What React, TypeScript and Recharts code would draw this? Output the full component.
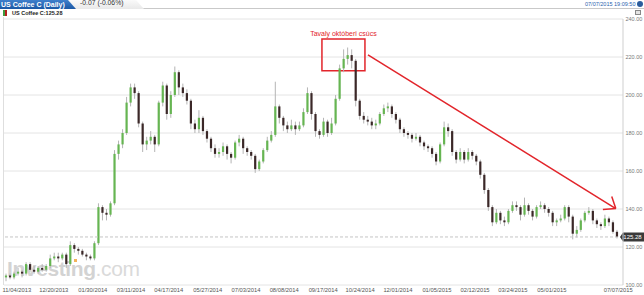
import React from 'react';
import { ComposedChart, Bar, XAxis, YAxis, CartesianGrid, ReferenceLine, ReferenceArea } from 'recharts';

// daily candles squeezed into ~3-day candles
const closes = [
  105, 104, 106, 107, 106, 111, 108, 107, 109, 108, 110, 114, 115, 114, 116, 111, 121, 119, 118, 116,
  115, 114, 122, 141, 138, 137, 143, 169, 174, 180, 196, 204, 201, 185, 174, 176, 178, 174, 196, 205,
  190, 200, 212, 204, 201, 197, 185, 182, 188, 181, 177, 172, 169, 170, 173, 169, 167, 175, 177, 172,
  170, 168, 161, 165, 171, 176, 179, 194, 188, 184, 182, 184, 182, 184, 191, 201, 190, 181, 179, 186,
  180, 185, 198, 214, 219, 221, 218, 197, 189, 187, 186, 184, 185, 190, 193, 194, 190, 187, 182, 180,
  179, 177, 178, 175, 173, 172, 169, 165, 174, 183, 181, 170, 166, 170, 166, 170, 168, 165, 158, 150,
  141, 133, 138, 134, 133, 139, 142, 141, 137, 142, 139, 136, 141, 142, 140, 138, 133, 134, 135, 141,
  136, 127, 129, 134, 138, 139, 134, 132, 131, 135, 133, 128, 125.28,
];
const highs = [
  106, 106, 107, 109, 108, 112, 112, 110, 110, 111, 111, 116, 117, 117, 117, 117, 123, 122, 120, 119,
  117, 116, 123, 143, 142, 140, 144, 171, 176, 182, 199, 206, 206, 202, 186, 178, 181, 179, 197, 207,
  206, 202, 215, 213, 206, 203, 198, 187, 192, 189, 182, 178, 174, 172, 175, 174, 170, 176, 179, 178,
  173, 171, 169, 166, 172, 178, 181, 207, 195, 189, 186, 187, 186, 186, 193, 204, 202, 191, 182, 188,
  187, 188, 200, 216, 224, 225, 224, 219, 198, 191, 189, 188, 187, 191, 195, 196, 195, 191, 188, 183,
  181, 180, 180, 179, 176, 174, 173, 170, 175, 186, 185, 182, 171, 172, 171, 172, 171, 169, 166, 159,
  151, 142, 140, 139, 136, 140, 144, 144, 142, 146, 143, 140, 142, 144, 143, 141, 139, 135, 137, 142,
  142, 137, 131, 135, 139, 141, 140, 135, 133, 137, 136, 134, 129,
];
const lows = [
  102, 103, 103, 105, 104, 105, 107, 106, 106, 107, 107, 109, 113, 112, 113, 109, 110, 117, 116, 115,
  113, 113, 113, 121, 134, 134, 136, 142, 166, 172, 179, 194, 198, 183, 170, 171, 174, 170, 173, 194,
  187, 188, 199, 200, 199, 195, 182, 180, 180, 179, 175, 170, 167, 167, 168, 166, 164, 166, 173, 169,
  168, 166, 159, 160, 164, 170, 175, 178, 185, 181, 180, 181, 179, 181, 183, 190, 187, 178, 177, 178,
  178, 179, 184, 197, 212, 216, 214, 194, 187, 185, 184, 182, 182, 184, 189, 191, 188, 185, 180, 178,
  177, 175, 176, 173, 171, 170, 167, 163, 164, 173, 178, 168, 164, 165, 164, 165, 166, 163, 156, 148,
  139, 131, 132, 132, 131, 132, 138, 139, 134, 136, 137, 134, 135, 140, 138, 136, 131, 131, 133, 134,
  133, 124, 125, 128, 133, 137, 132, 130, 129, 130, 131, 127, 124.5,
];
const firstOpen = 104;

const dateTicks = [2.7, 11.9, 21.6, 31.1, 40.5, 50.2, 59.7, 69.2, 78.9, 88.1, 97.5, 107.2, 116.7, 126.1, 135.8, 152.3];
const dateLabels = [
  '11/04/2013', '12/20/2013', '01/30/2014', '03/11/2014', '04/17/2014', '05/27/2014', '07/03/2014', '08/08/2014',
  '09/17/2014', '10/24/2014', '12/01/2014', '01/05/2015', '02/12/2015', '03/24/2015', '05/01/2015', '07/07/2015',
];
const priceTicks = [100, 120, 140, 160, 180, 200, 220, 240];
const lastPrice = 125.28;

// hand drawn annotation, in data units
const peakBox = { x1: 78.6, x2: 89.3, y1: 212.7, y2: 229.5 };
const arrowLine = [{ x: 90.05, y: 221.1 }, { x: 151.7, y: 140.25 }];
const arrowHeadA = [{ x: 150.7, y: 146.6 }, { x: 151.7, y: 140.25 }];
const arrowHeadB = [{ x: 148.5, y: 139.7 }, { x: 151.7, y: 140.25 }];

const data = closes.map((c, i) => ({
  i,
  open: i === 0 ? firstOpen : closes[i - 1],
  close: c,
  high: highs[i],
  low: lows[i],
}));

const RED = '#e2252b';

const Candle = (props: any) => {
  const { x, y, width, height, payload } = props;
  if (!payload) return null;
  const { open, close, high, low } = payload;
  const yTop = Math.min(y, y + height);
  const h = Math.abs(height);
  const ppu = h / (high - low);
  const top = yTop + (high - Math.max(open, close)) * ppu;
  const bot = yTop + (high - Math.min(open, close)) * ppu;
  const cx = x + width / 2;
  const up = close >= open;
  return (
    <g>
      <line x1={cx} x2={cx} y1={yTop} y2={yTop + h} stroke="#b4b4b4" strokeWidth={1} />
      <rect x={cx - 1.1} y={top} width={2.2} height={Math.max(1, bot - top)} fill={up ? '#66b552' : '#3b2828'} />
    </g>
  );
};

const XTick = ({ x, y, payload }: any) => (
  <text x={x} y={y + 6.5} fontSize={5.8} fill="#555" textAnchor="middle">
    {dateLabels[dateTicks.indexOf(payload.value)]}
  </text>
);

const YTick = ({ x, y, payload }: any) => (
  <text x={x + 2.5} y={y + 2} fontSize={5.5} fill="#777" textAnchor="start">
    {payload.value.toFixed(2)}
  </text>
);

const PriceTag = (props: any) => {
  const { viewBox } = props;
  if (!viewBox) return null;
  const x = viewBox.x + viewBox.width;
  const y = viewBox.y;
  return (
    <g>
      <path d={`M${x - 3},${y} L${x},${y - 4.5} L${x + 21},${y - 4.5} L${x + 21},${y + 4.5} L${x},${y + 4.5} Z`} fill="#3a3a3a" />
      <text x={x + 9.5} y={y + 2} fontSize={6} fill="#fff" textAnchor="middle">{lastPrice.toFixed(2)}</text>
    </g>
  );
};

const App = () => {
  return (
    <div style={{ position: 'relative', width: 644, height: 295, overflow: 'hidden', background: '#fff', fontFamily: '"Liberation Sans", Arial, sans-serif' }}>
      <style>{'body{margin:0}'}</style>

      {/* tab row */}
      <div style={{ position: 'absolute', left: 0, top: 8, width: 644, height: 1, background: '#c9c9c9' }} />
      <div style={{ position: 'absolute', left: 68, top: 0, width: 76, height: 9, background: 'linear-gradient(#fafafa,#e9e9e9)', clipPath: 'polygon(0 0, 68px 0, 76px 100%, 0 100%)' }} />
      <div style={{ position: 'absolute', left: 80, top: 0, fontSize: 6.8, color: '#333', lineHeight: 1 }}>-0.07 (-0.06%)</div>
      <div style={{ position: 'absolute', left: 0, top: 0, width: 76, height: 9, background: 'linear-gradient(#3f80cc,#1b58a5)', clipPath: 'polygon(0 0, 68px 0, 76px 100%, 0 100%)' }} />
      <div style={{ position: 'absolute', left: 1, top: 0.5, fontSize: 7, fontWeight: 700, color: '#fff', lineHeight: 1, whiteSpace: 'nowrap' }}>US Coffee C (Daily)</div>
      <div style={{ position: 'absolute', left: 585, top: 1.5, fontSize: 5.5, color: '#2b62ad', lineHeight: 1 }}>07/07/2015 19:09:50</div>
      <div style={{ position: 'absolute', left: 637, top: 1, width: 6, height: 6, borderRadius: 3, background: '#2b5c9c' }} />
      <div style={{ position: 'absolute', left: 635, top: 10, width: 6, height: 5, border: '1px solid #888', background: '#e4e4e4', boxSizing: 'border-box' }} />

      {/* legend */}
      <div style={{ position: 'absolute', left: 3, top: 10, width: 2, height: 6, background: '#3d9b3d' }} />
      <div style={{ position: 'absolute', left: 5, top: 10, width: 2, height: 6, background: '#b51f1f' }} />
      <div style={{ position: 'absolute', left: 12, top: 10.5, fontSize: 5.5, fontWeight: 700, color: '#222', lineHeight: 1 }}>US Coffee C:125.28</div>

      {/* left frame */}
      <div style={{ position: 'absolute', left: 3, top: 17, width: 1, height: 268, background: '#dedede' }} />

      {/* watermark */}
      <div style={{ position: 'absolute', left: 7, top: 258, fontSize: 21, lineHeight: 1, whiteSpace: 'nowrap', letterSpacing: -0.4 }}>
        <span style={{ fontWeight: 700, color: '#d3d3d3' }}>Investing</span>
        <span style={{ color: '#dadada' }}>.com</span>
      </div>
      <div style={{ position: 'absolute', left: 74, top: 259, width: 3, height: 3, background: '#f2b35a' }} />

      <div style={{ position: 'absolute', left: 0, top: 0 }}>
        <ComposedChart width={644} height={295} data={data} margin={{ top: 19, right: 0, bottom: 0, left: 4 }}>
          <CartesianGrid horizontal vertical={false} stroke="#e4e4e4" />
          <XAxis
            type="number"
            dataKey="i"
            domain={[-0.5, 153.5]}
            allowDataOverflow
            ticks={dateTicks}
            interval={0}
            axisLine={false}
            tickLine={false}
            tickSize={0}
            tickMargin={0}
            height={10}
            tick={<XTick />}
          />
          <YAxis
            orientation="right"
            width={21}
            domain={[100, 240]}
            allowDataOverflow
            ticks={priceTicks}
            interval={0}
            axisLine={{ stroke: '#cfcfcf' }}
            tickLine={false}
            tickSize={0}
            tickMargin={0}
            tick={<YTick />}
          />
          <ReferenceLine y={lastPrice} stroke="#c4c4c4" strokeDasharray="3 2" label={<PriceTag />} />
          <Bar dataKey={(d: any) => [d.low, d.high]} barSize={4} shape={<Candle />} isAnimationActive={false} />
          <ReferenceArea
            x1={peakBox.x1}
            x2={peakBox.x2}
            y1={peakBox.y1}
            y2={peakBox.y2}
            fill="none"
            fillOpacity={0}
            stroke={RED}
            strokeWidth={1.5}
            ifOverflow="visible"
            label={{ value: 'Tavaly októberi csúcs', position: 'top', fill: RED, fontSize: 7, offset: 3 }}
          />
          <ReferenceLine segment={arrowLine} stroke={RED} strokeWidth={1.5} ifOverflow="visible" />
          <ReferenceLine segment={arrowHeadA} stroke={RED} strokeWidth={1.5} ifOverflow="visible" />
          <ReferenceLine segment={arrowHeadB} stroke={RED} strokeWidth={1.5} ifOverflow="visible" />
        </ComposedChart>
      </div>
    </div>
  );
};

export default App;
